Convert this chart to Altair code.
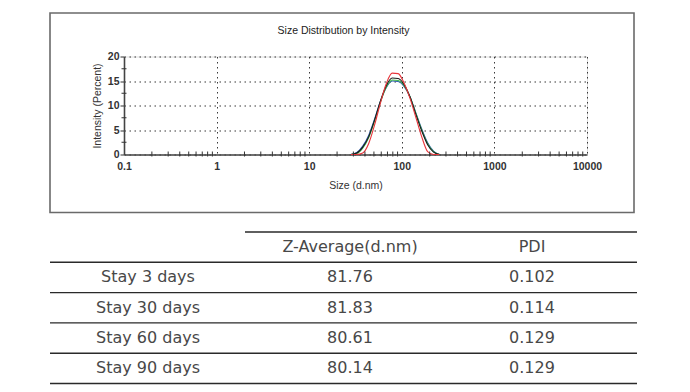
import altair as alt
import pandas as pd

# ---------------- data ----------------
sizes = [28.21, 32.67, 37.84, 43.82, 50.75, 58.77, 68.06, 78.82, 91.28,
         105.7, 122.4, 141.8, 164.2, 190.1, 220.2, 255.0]

blue_vals  = [0.0, 0.4, 1.7, 3.9, 7.2, 10.9, 13.7, 15.0, 14.9, 13.9, 11.8, 8.5, 5.2, 2.4, 0.7, 0.0]
green_vals = [0.0, 0.2, 1.3, 3.4, 6.8, 10.7, 13.8, 15.2, 15.1, 14.1, 11.8, 8.4, 5.0, 2.2, 0.6, 0.0]
black_vals = [0.0, 0.3, 1.5, 3.6, 7.0, 10.9, 14.1, 15.6, 15.5, 14.3, 11.8, 8.2, 4.8, 2.0, 0.5, 0.0]
red_vals   = [0.0, 0.0, 0.3, 2.2, 6.0, 10.5, 14.5, 16.6, 16.5, 14.6, 11.5, 7.6, 3.6, 0.6, 0.0, 0.0]

series_names  = ["Stay 90 days", "Stay 60 days", "Stay 30 days", "Stay 3 days"]
series_colors = ["#2f5db3", "#3cb54a", "#1a1a1a", "#e8353b"]
series_values = [blue_vals, green_vals, black_vals, red_vals]

x_ticks = [0.1, 1, 10, 100, 1000, 10000]
y_ticks = [0, 5, 10, 15, 20]
x_minor = [m * 10.0 ** e for e in range(-1, 4) for m in range(2, 10)]
y_minor = [2.5, 7.5, 12.5, 17.5]

row_labels = ["Stay 3 days", "Stay 30 days", "Stay 60 days", "Stay 90 days"]
z_average = [81.76, 81.83, 80.61, 80.14]
pdi = [0.102, 0.114, 0.129, 0.129]
header_z = "Z-Average(d.nm)"
header_pdi = "PDI"

# ---------------- frames ----------------
rows = []
for name, vals in zip(series_names, series_values):
    for s, v in zip(sizes, vals):
        rows.append({"size": s, "value": v, "series": name})
curve_df = pd.DataFrame(rows)

FONT = "Liberation Sans"
TFONT = "DejaVu Sans"
TCOL = "#484848"

W, H = 463, 98

xscale = alt.Scale(type="log", domain=[0.1, 10000], nice=False)
yscale = alt.Scale(domain=[0, 20], nice=False, zero=True)

xaxis = alt.Axis(values=x_ticks, labelExpr="format(datum.value, '~g')",
                 title="Size (d.nm)", ticks=False, labelPadding=7,
                 titlePadding=8, grid=True, gridDash=[1.5, 3.5],
                 gridColor="#222", gridOpacity=0.9, domainColor="#444",
                 domainWidth=1.6, labelFont=FONT, labelFontSize=10.5,
                 labelFontWeight="bold", labelColor="#333",
                 titleFont=FONT, titleFontSize=10.5,
                 titleFontWeight="normal", titleColor="#333",
                 labelFlush=False, labelOverlap=False)
yaxis = alt.Axis(values=y_ticks, title="Intensity (Percent)", tickSize=4,
                 tickColor="#333", labelPadding=1, titlePadding=5,
                 grid=True, gridDash=[1.5, 3.5], gridColor="#222",
                 gridOpacity=0.9, domainColor="#444", domainWidth=1.6,
                 labelFont=FONT, labelFontSize=10.5, labelFontWeight="bold",
                 labelColor="#333", titleFont=FONT, titleFontSize=10.5,
                 titleFontWeight="normal", titleColor="#333",
                 labelOverlap=False, labelFlush=False)

lines = alt.Chart(curve_df).mark_line(strokeWidth=1.1, interpolate="monotone").encode(
    x=alt.X("size:Q", scale=xscale, axis=xaxis),
    y=alt.Y("value:Q", scale=yscale, axis=yaxis),
    color=alt.Color("series:N", scale=alt.Scale(domain=series_names, range=series_colors),
                    legend=None),
    order=alt.Order("series_order:Q"),
).transform_calculate(
    series_order="indexof(%s, datum.series)" % str(series_names)
)

xminor = alt.Chart(pd.DataFrame({"m": x_minor})).mark_rule(color="#333", strokeWidth=1).encode(
    x=alt.X("m:Q", scale=xscale, axis=xaxis),
    y=alt.value(H - 3),
    y2=alt.value(H + 2),
)
yminor = alt.Chart(pd.DataFrame({"m": y_minor})).mark_rule(color="#333", strokeWidth=1).encode(
    y=alt.Y("m:Q", scale=yscale, axis=yaxis),
    x=alt.value(-2.5),
    x2=alt.value(2.5),
)

frame = alt.Chart(pd.DataFrame({"a": [0]})).mark_rect(
    fill=None, stroke="#6a6a6a", strokeWidth=1.6
).encode(
    x=alt.value(-74), x2=alt.value(510), y=alt.value(-43.5), y2=alt.value(156)
)

plot = alt.layer(frame, lines, xminor, yminor)

# ---------------- table ----------------
row_domain = ["header"] + row_labels
tscale = alt.Scale(domain=row_domain, range=[175.5, 327], paddingInner=0, paddingOuter=0)

body_df = pd.DataFrame({"row": row_labels, "z": z_average, "pdi": pdi})
head_df = pd.DataFrame({"row": ["header"], "z": [header_z], "pdi": [header_pdi]})

def ypos(band=0.5):
    return alt.Y("row:N", scale=tscale, axis=None, bandPosition=band)

text_kw = dict(font=TFONT, fontSize=16, color=TCOL, align="center", baseline="middle")

t_label = alt.Chart(body_df).mark_text(**text_kw).encode(
    x=alt.value(24), y=ypos(), text="row:N")
t_z = alt.Chart(body_df).mark_text(**text_kw).encode(
    x=alt.value(226), y=ypos(), text=alt.Text("z:Q", format=".2f"))
t_p = alt.Chart(body_df).mark_text(**text_kw).encode(
    x=alt.value(408), y=ypos(), text=alt.Text("pdi:Q", format=".3f"))
h_z = alt.Chart(head_df).mark_text(**text_kw).encode(
    x=alt.value(226), y=ypos(), text="z:N")
h_p = alt.Chart(head_df).mark_text(**text_kw).encode(
    x=alt.value(408), y=ypos(), text="pdi:N")

rule_kw = dict(color="#2a2a2a", strokeWidth=1.4)
r_head = alt.Chart(head_df).mark_rule(**rule_kw).encode(
    x=alt.value(121), x2=alt.value(513), y=ypos(0))
r_rows = alt.Chart(body_df).mark_rule(**rule_kw).encode(
    x=alt.value(-74), x2=alt.value(513), y=ypos(0))
r_last = alt.Chart(body_df.tail(1)).mark_rule(**rule_kw).encode(
    x=alt.value(-74), x2=alt.value(513), y=ypos(1))

table = alt.layer(r_head, r_rows, r_last, t_label, t_z, t_p, h_z, h_p)

chart = alt.layer(plot, table).resolve_scale(y="independent", x="independent").properties(
    width=W, height=H,
    title=alt.TitleParams("Size Distribution by Intensity", font=FONT, fontSize=10.5,
                          fontWeight="normal", color="#222", anchor="middle",
                          frame="group", dx=-12, offset=0, dy=24),
    autosize=alt.AutoSizeParams(type="none"),
    padding={"left": 116, "top": 48.5, "right": 95, "bottom": 232},
).configure_view(stroke=None).configure(background="white")

chart.save("out.html", embed_options={"renderer": "svg", "actions": False})
